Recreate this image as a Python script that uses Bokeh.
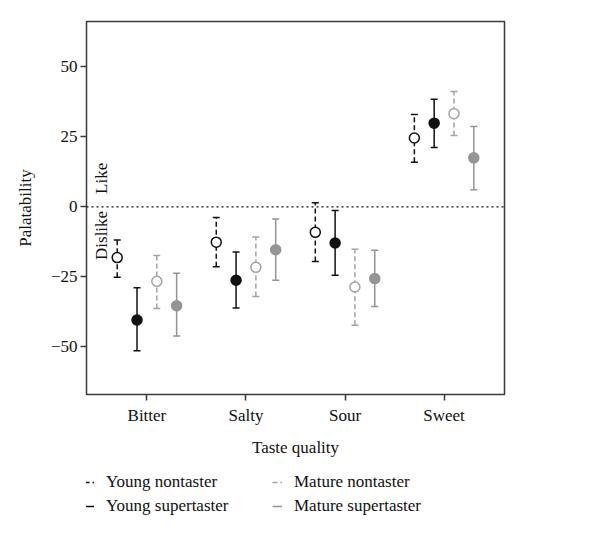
import math
from bokeh.plotting import figure
from bokeh.layouts import column
from bokeh.models import (ColumnDataSource, FixedTicker, Span, Label, Legend,
                          LegendItem, FactorRange, Range1d)
from bokeh.transform import dodge
from bokeh.embed import file_html
from bokeh.resources import INLINE

# ---------------- data ----------------
tastes = ["Bitter", "Salty", "Sour", "Sweet"]

yn_mean = [-18.1, -12.6, -9.1, 24.6]
yn_low = [-25.1, -21.4, -19.5, 15.9]
yn_high = [-11.8, -3.8, 1.5, 33.0]

ys_mean = [-40.4, -26.2, -12.9, 29.9]
ys_low = [-51.4, -36.1, -24.4, 21.2]
ys_high = [-28.9, -16.1, -1.3, 38.4]

mn_mean = [-26.6, -21.6, -28.6, 33.3]
mn_low = [-36.3, -32.0, -42.3, 25.5]
mn_high = [-17.4, -10.8, -15.1, 41.2]

ms_mean = [-35.3, -15.3, -25.6, 17.5]
ms_low = [-46.1, -26.2, -35.6, 6.1]
ms_high = [-23.7, -4.3, -15.5, 28.7]

y_ticks = [-50, -25, 0, 25, 50]
y_tick_labels = ["\u221250", "\u221225", "0", "25", "50"]

FONT = "Liberation Serif"
FS = "17px"
FRAME = "#3a3a3a"

p = figure(width=592, height=462, output_backend="svg", toolbar_location=None,
           x_range=FactorRange(*tastes, range_padding=0.11, range_padding_units="absolute"),
           y_range=(-67, 66.2),
           min_border_left=86, min_border_right=88, min_border_top=21, min_border_bottom=68)
p.grid.visible = False
p.background_fill_color = "white"
p.border_fill_color = "white"
p.outline_line_color = FRAME
p.outline_line_width = 1.5
p.outline_line_alpha = 1.0

p.add_layout(Span(location=0, dimension="width", line_color="#111111",
                  line_dash="2 3", line_width=1.2))

series = [
    ("Young nontaster", yn_mean, yn_low, yn_high, -0.3, "#111111", "white", "5 3"),
    ("Young supertaster", ys_mean, ys_low, ys_high, -0.1, "#111111", "#111111", "solid"),
    ("Mature nontaster", mn_mean, mn_low, mn_high, 0.1, "#a3a3a3", "white", "5 3"),
    ("Mature supertaster", ms_mean, ms_low, ms_high, 0.3, "#959595", "#959595", "solid"),
]

# legend panel (separate figure below the chart; its y range keeps the key glyphs off-canvas)
lp = figure(width=592, height=69, output_backend="svg", toolbar_location=None,
            x_range=p.x_range, y_range=Range1d(1000, 1001),
            x_axis_location=None, y_axis_location=None,
            min_border_left=86, min_border_right=88, min_border_top=0, min_border_bottom=0)
lp.grid.visible = False
lp.outline_line_color = None
lp.background_fill_color = "white"
lp.border_fill_color = "white"

legend_items = []
for name, mean, low, high, off, col, fill, dash in series:
    src = ColumnDataSource(dict(taste=tastes, mean=mean, low=low, high=high))
    xs = dodge("taste", off, range=p.x_range)
    p.segment(x0=xs, x1=xs, y0="low", y1="high", source=src,
              line_color=col, line_width=1.5, line_dash=dash)
    p.scatter(x=xs, y="low", source=src, marker="dash", size=7,
              line_color=col, line_width=1.5)
    p.scatter(x=xs, y="high", source=src, marker="dash", size=7,
              line_color=col, line_width=1.5)
    p.scatter(x=xs, y="mean", source=src, marker="circle", size=10,
              line_color=col, fill_color=fill, line_width=1.5)
    key = lp.segment(x0=xs, x1=xs, y0="low", y1="high", source=src,
                     line_color=col, line_width=1.5, line_dash=dash)
    legend_items.append(LegendItem(label=name, renderers=[key]))

# axes
p.yaxis.ticker = FixedTicker(ticks=y_ticks)
p.yaxis.major_label_overrides = {t: l for t, l in zip(y_ticks, y_tick_labels)}
for ax in (p.xaxis[0], p.yaxis[0]):
    ax.axis_line_color = None
    ax.major_tick_line_color = FRAME
    ax.major_tick_line_width = 1.5
    ax.major_tick_in = 0
    ax.major_tick_out = 6
    ax.minor_tick_line_color = None
    ax.major_label_text_font = FONT
    ax.major_label_text_font_size = FS
    ax.major_label_text_color = "#111111"
    ax.axis_label_text_font = FONT
    ax.axis_label_text_font_size = FS
    ax.axis_label_text_font_style = "normal"
    ax.axis_label_text_color = "#111111"
p.yaxis.major_label_standoff = 3
p.yaxis.axis_label = "Palatability"
p.yaxis.axis_label_standoff = 13
p.xaxis.major_label_standoff = 5
p.xaxis.axis_label = "Taste quality"
p.xaxis.axis_label_standoff = 10

# Like / Dislike
p.add_layout(Label(x=15, x_units="screen", y=0, y_offset=13, text="Like",
                   angle=math.pi / 2, text_align="left", text_baseline="middle",
                   text_font=FONT, text_font_size=FS, text_color="#111111"))
p.add_layout(Label(x=15, x_units="screen", y=0, y_offset=-4, text="Dislike",
                   angle=math.pi / 2, text_align="right", text_baseline="middle",
                   text_font=FONT, text_font_size=FS, text_color="#111111"))

def make_legend(items, loc):
    lg = Legend(items=items, location=loc, orientation="vertical",
                glyph_width=10, glyph_height=20, label_standoff=12,
                spacing=4, padding=0, margin=0,
                border_line_color=None, background_fill_alpha=0,
                label_text_font=FONT, label_text_font_size=FS,
                label_text_color="#111111", label_height=20)
    lp.add_layout(lg, "center")

make_legend(legend_items[:2], (-2, 15))
make_legend(legend_items[2:], (186, 15))

open("out.html", "w").write(file_html(column(p, lp, spacing=0), INLINE))
